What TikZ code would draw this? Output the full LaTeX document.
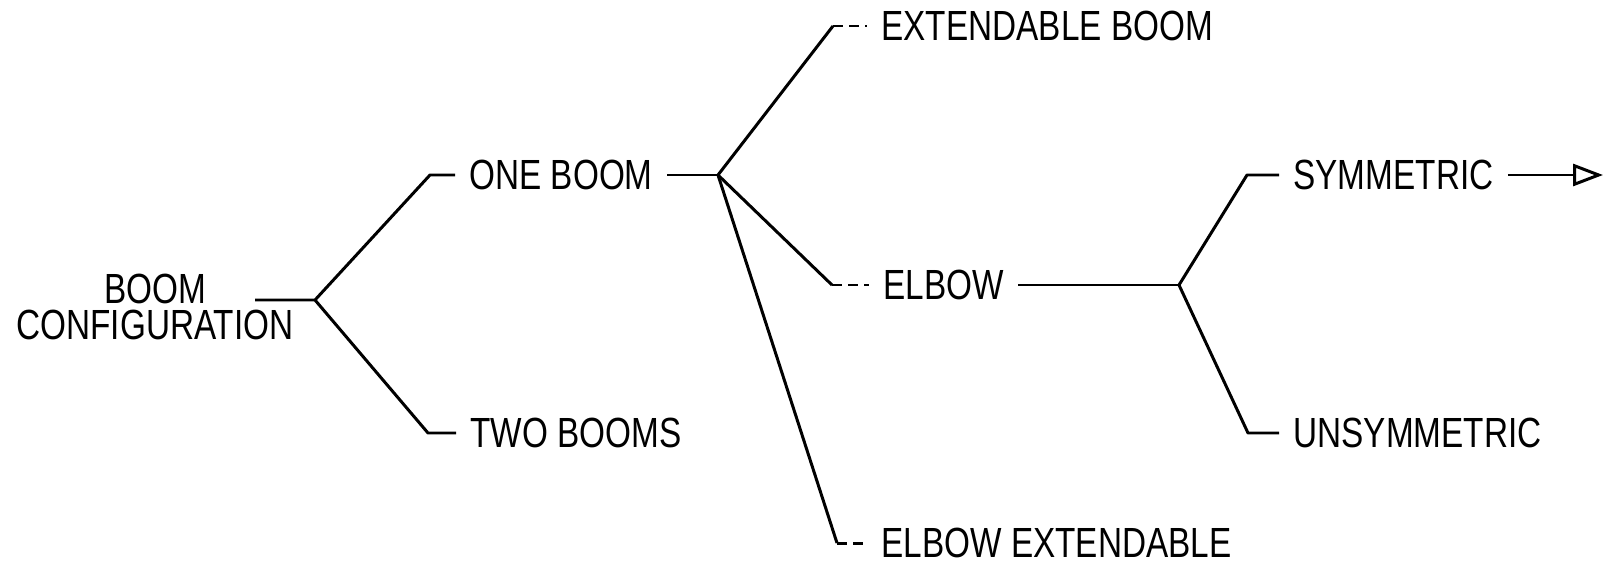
\documentclass[tikz,border=0pt]{standalone}
\usepackage{fontspec}
\setmainfont{Liberation Sans}[FakeStretch=0.79]
\usepackage{tikz}
\usetikzlibrary{arrows.meta,positioning}

\begin{document}
\begin{tikzpicture}[
		> = {Triangle[open, length=3mm, width=2.2mm]}, % open arrow head
		line width = 0.85pt, % line style
		line join = round
	]
	
	\tikzstyle{leaf}=[
	anchor = west,
	inner sep = 1.3mm,
	font = \fontsize{12}{10.5}\selectfont
	]
	\tikzstyle{dots}=[dash pattern = on 1mm off 0.6mm]
	
	\useasboundingbox (0,0) rectangle (16.05,5.68);
	
	\node[align = center, font = \fontsize{12}{10.5}\selectfont] (root) at (1.55,2.61) {BOOM\\CONFIGURATION};
	\coordinate (s1) at (2.55,2.68);
	\coordinate (j1) at (3.15,2.68);
	
	\node[leaf] (one) at (4.55,3.93) {ONE BOOM};
	\node[leaf] (two) at (4.56,1.35) {TWO BOOMS};
	\coordinate (j2) at (7.18,3.93);
	
	\node[leaf] (ext) at (8.67,5.42) {EXTENDABLE BOOM};
	\node[leaf] (elbow) at (8.69,2.83) {ELBOW};
	\node[leaf] (elbext) at (8.67,0.25) {ELBOW EXTENDABLE};
	\coordinate (j3) at (11.79,2.83);
	
	\node[leaf] (sym) at (12.79,3.93) {SYMMETRIC};
	\node[leaf] (unsym) at (12.79,1.35) {UNSYMMETRIC};
	\coordinate (out) at (16.03,3.93);
	
	\draw (s1) -- (j1) -- ([xshift=-2.5mm]one.west) -- (one.west);
	\draw (j1) -- ([xshift=-2.8mm]two.west) -- (two.west);
	
	\draw (one.east) -- (j2);
	\draw (j2) -- ([xshift=-3.4mm]ext.west);
	\draw[dots] ([xshift=-3.4mm]ext.west) -- (ext.west);
	\draw (j2) -- ([xshift=-3.7mm]elbow.west);
	\draw[dots] ([xshift=-3.7mm]elbow.west) -- (elbow.west);
	\draw (j2) -- ([xshift=-3.0mm]elbext.west);
	\draw[dots] ([xshift=-3.0mm]elbext.west) -- (elbext.west);
	
	\draw (elbow.east) -- (j3);
	\draw (j3) -- ([xshift=-3.2mm]sym.west) -- (sym.west);
	\draw (j3) -- ([xshift=-3.1mm]unsym.west) -- (unsym.west);
	\draw[->] (sym.east) -- (out);
\end{tikzpicture}
\end{document}
